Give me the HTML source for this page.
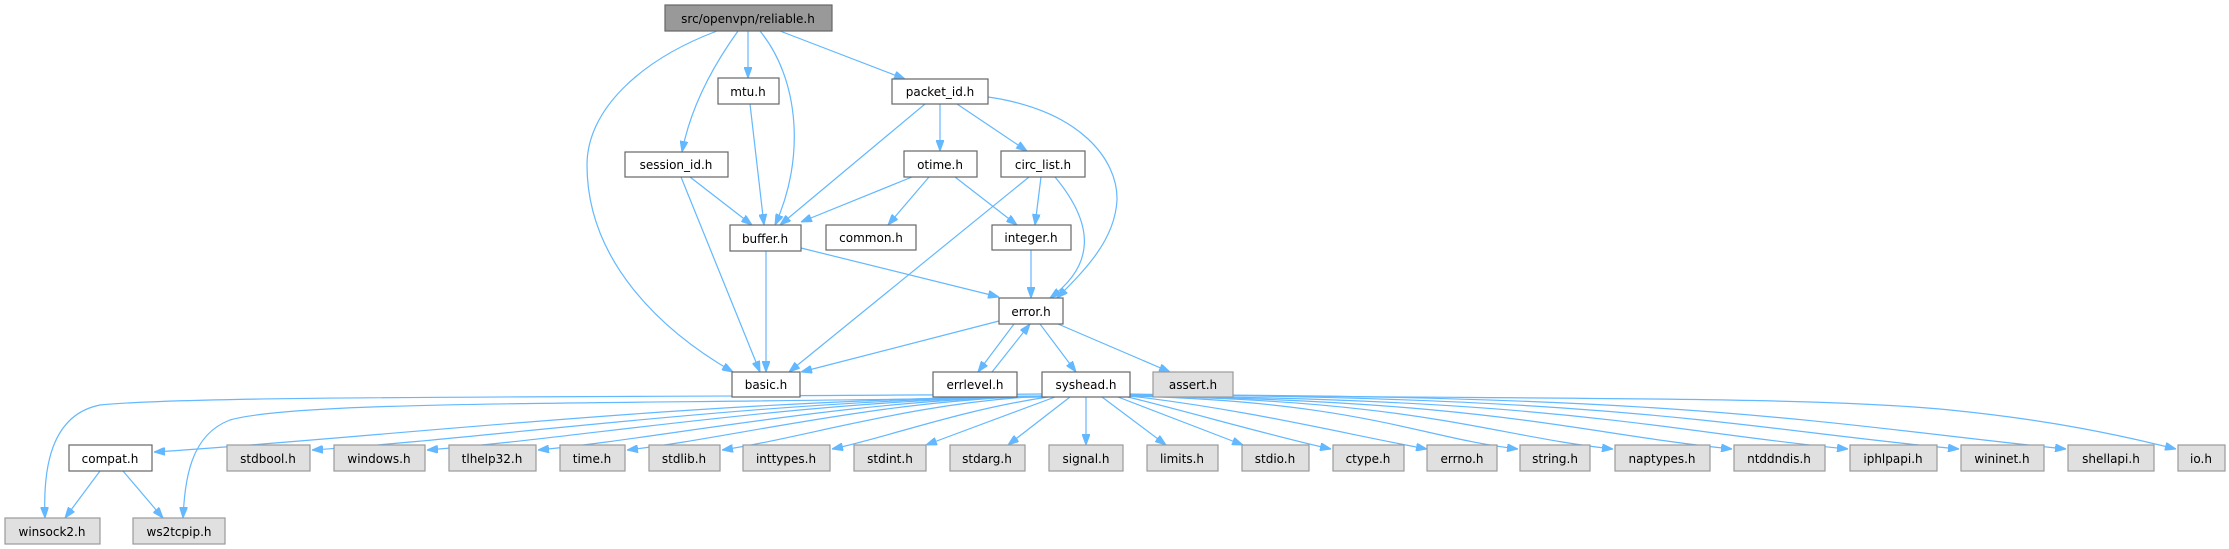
<!DOCTYPE html>
<html><head><meta charset="utf-8"><style>
html,body{margin:0;padding:0;background:#fff;}
svg{display:block;}
text{font-family:"DejaVu Sans","Liberation Sans",sans-serif;font-size:12px;fill:#000;text-anchor:middle;}
.w{fill:#fff;stroke:#666;stroke-width:1.2;}
.g{fill:#e0e0e0;stroke:#999;stroke-width:1.2;}
.r{fill:#999;stroke:#666;stroke-width:1.2;}
path.e{fill:none;stroke:#63b8ff;stroke-width:1.2;marker-end:url(#a);}
</style></head><body>
<svg width="2229" height="549" viewBox="0 0 2229 549" xmlns="http://www.w3.org/2000/svg">
<defs><marker id="a" markerUnits="userSpaceOnUse" markerWidth="11" markerHeight="8" refX="11" refY="4" orient="auto"><path d="M0,0 L11,4 L0,8 z" fill="#63b8ff" stroke="#63b8ff"/></marker></defs>
<!-- edges -->
<path class="e" d="M717,31 C640,60 587,110 587,165 C587,260 660,330 733,372"/>
<path class="e" d="M738,31 C710,70 690,110 682,152"/>
<path class="e" d="M748,31 L748,78"/>
<path class="e" d="M760,31 C800,80 805,160 775,225"/>
<path class="e" d="M780,31 L905,79"/>
<path class="e" d="M750,104 L764,225"/>
<path class="e" d="M690,177 L752,225"/>
<path class="e" d="M681,177 L760,372"/>
<path class="e" d="M925,104 L780,225"/>
<path class="e" d="M940,104 L940,151"/>
<path class="e" d="M957,104 L1027,151"/>
<path class="e" d="M988,97 C1080,110 1118,160 1117,200 C1115,240 1085,270 1057,298"/>
<path class="e" d="M912,177 L801,222"/>
<path class="e" d="M929,177 L888,225"/>
<path class="e" d="M955,177 L1017,225"/>
<path class="e" d="M1029,177 L789,372"/>
<path class="e" d="M1041,177 L1035,225"/>
<path class="e" d="M1055,177 C1095,225 1095,265 1050,298"/>
<path class="e" d="M1031,250 L1031,298"/>
<path class="e" d="M801,248 L999,297"/>
<path class="e" d="M766,251 L766,372"/>
<path class="e" d="M999,321 L801,372"/>
<path class="e" d="M1014,324 L978,372"/>
<path class="e" d="M992,372 L1030,324"/>
<path class="e" d="M1040,324 L1076,372"/>
<path class="e" d="M1058,324 L1170,372"/>
<!-- syshead fan -->
<path class="e" d="M1045,396 C689,400 377,438 154,452"/>
<path class="e" d="M1045,396 C752,400 495,438 312,450"/>
<path class="e" d="M1045,396 C798,400 582,438 427,450"/>
<path class="e" d="M1045,396 C842,400 665,438 538,450"/>
<path class="e" d="M1045,396 C878,400 732,438 627,450"/>
<path class="e" d="M1045,396 C916,402 803,438 722,450"/>
<path class="e" d="M1048,397 C960,410 885,438 832,449"/>
<path class="e" d="M1055,397 L926,445"/>
<path class="e" d="M1070,397 L1008,445"/>
<path class="e" d="M1086,397 L1086,445"/>
<path class="e" d="M1102,397 L1166,445"/>
<path class="e" d="M1118,397 L1243,445"/>
<path class="e" d="M1128,397 C1200,415 1280,438 1331,449"/>
<path class="e" d="M1130,396 C1250,410 1350,435 1427,449"/>
<path class="e" d="M1130,396 C1363,402 1421,438 1518,449"/>
<path class="e" d="M1130,396 C1420,400 1492,436 1613,449"/>
<path class="e" d="M1130,396 C1491,400 1582,434 1732,449"/>
<path class="e" d="M1130,396 C1561,398 1668,432 1848,449"/>
<path class="e" d="M1130,395 C1627,396 1752,430 1959,449"/>
<path class="e" d="M1130,395 C1692,394 1832,425 2066,449"/>
<path class="e" d="M1130,394 C1500,400 1800,395 1950,410 C2050,420 2120,435 2176,449"/>
<path class="e" d="M1042,394 C600,398 200,395 100,405 C50,415 43,470 45,518"/>
<path class="e" d="M1042,397 C600,405 300,400 230,420 C190,435 185,480 183,518"/>
<path class="e" d="M100,471 L65,518"/>
<path class="e" d="M123,471 L163,518"/>
<!-- nodes -->
<rect class="r" x="665" y="5" width="167" height="26"/><text x="748" y="23">src/openvpn/reliable.h</text>
<rect class="w" x="718" y="78" width="61" height="26"/><text x="748" y="96">mtu.h</text>
<rect class="w" x="892" y="79" width="96" height="25"/><text x="940" y="96">packet_id.h</text>
<rect class="w" x="625" y="152" width="103" height="25"/><text x="676" y="169">session_id.h</text>
<rect class="w" x="904" y="151" width="73" height="26"/><text x="940" y="169">otime.h</text>
<rect class="w" x="1001" y="151" width="84" height="26"/><text x="1043" y="169">circ_list.h</text>
<rect class="w" x="730" y="225" width="71" height="26"/><text x="765" y="243">buffer.h</text>
<rect class="w" x="826" y="225" width="90" height="25"/><text x="871" y="242">common.h</text>
<rect class="w" x="992" y="225" width="79" height="25"/><text x="1031" y="242">integer.h</text>
<rect class="w" x="999" y="298" width="64" height="26"/><text x="1031" y="316">error.h</text>
<rect class="w" x="732" y="372" width="68" height="25"/><text x="766" y="389">basic.h</text>
<rect class="w" x="933" y="372" width="84" height="25"/><text x="975" y="389">errlevel.h</text>
<rect class="w" x="1042" y="372" width="88" height="25"/><text x="1086" y="389">syshead.h</text>
<rect class="g" x="1153" y="372" width="80" height="25"/><text x="1193" y="389">assert.h</text>
<rect class="w" x="69" y="445" width="83" height="26"/><text x="110" y="463">compat.h</text>
<rect class="g" x="227" y="445" width="83" height="26"/><text x="268" y="463">stdbool.h</text>
<rect class="g" x="334" y="445" width="91" height="26"/><text x="379" y="463">windows.h</text>
<rect class="g" x="449" y="445" width="87" height="26"/><text x="492" y="463">tlhelp32.h</text>
<rect class="g" x="560" y="445" width="65" height="26"/><text x="592" y="463">time.h</text>
<rect class="g" x="649" y="445" width="71" height="26"/><text x="684" y="463">stdlib.h</text>
<rect class="g" x="743" y="445" width="87" height="26"/><text x="786" y="463">inttypes.h</text>
<rect class="g" x="854" y="445" width="72" height="26"/><text x="890" y="463">stdint.h</text>
<rect class="g" x="950" y="445" width="75" height="26"/><text x="987" y="463">stdarg.h</text>
<rect class="g" x="1049" y="445" width="74" height="26"/><text x="1086" y="463">signal.h</text>
<rect class="g" x="1147" y="445" width="71" height="26"/><text x="1182" y="463">limits.h</text>
<rect class="g" x="1242" y="445" width="67" height="26"/><text x="1275" y="463">stdio.h</text>
<rect class="g" x="1333" y="445" width="71" height="26"/><text x="1368" y="463">ctype.h</text>
<rect class="g" x="1427" y="445" width="70" height="26"/><text x="1462" y="463">errno.h</text>
<rect class="g" x="1520" y="445" width="70" height="26"/><text x="1555" y="463">string.h</text>
<rect class="g" x="1615" y="445" width="95" height="26"/><text x="1662" y="463">naptypes.h</text>
<rect class="g" x="1734" y="445" width="91" height="26"/><text x="1779" y="463">ntddndis.h</text>
<rect class="g" x="1850" y="445" width="87" height="26"/><text x="1893" y="463">iphlpapi.h</text>
<rect class="g" x="1961" y="445" width="83" height="26"/><text x="2002" y="463">wininet.h</text>
<rect class="g" x="2068" y="445" width="86" height="26"/><text x="2111" y="463">shellapi.h</text>
<rect class="g" x="2178" y="445" width="47" height="26"/><text x="2201" y="463">io.h</text>
<rect class="g" x="5" y="518" width="95" height="26"/><text x="52" y="536">winsock2.h</text>
<rect class="g" x="133" y="518" width="92" height="26"/><text x="179" y="536">ws2tcpip.h</text>
</svg>
</body></html>
